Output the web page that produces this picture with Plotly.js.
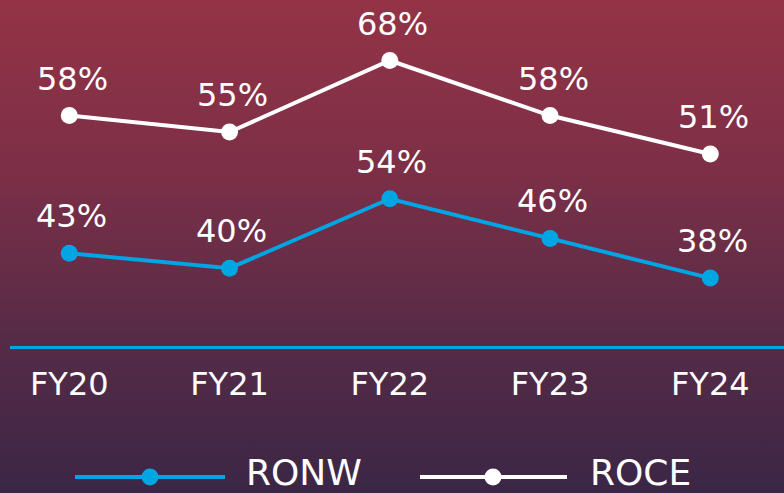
<!DOCTYPE html>
<html>
<head>
<meta charset="utf-8">
<script src="https://cdn.plot.ly/plotly-3.0.1.min.js"></script>
<style>
  html, body { margin:0; padding:0; }
  body { width:784px; height:493px; overflow:hidden;
    background: linear-gradient(to bottom, #943346 0%, #7c2f47 35%, #552b47 70%, #3b2646 100%); }
  #chart { width:784px; height:493px; }
</style>
</head>
<body>
<div id="chart"></div>
<script>
// ---- data ----
const categories = ["FY20", "FY21", "FY22", "FY23", "FY24"];
const roceValues = [58, 55, 68, 58, 51];
const ronwValues = [43, 40, 54, 46, 38];
const seriesNames = ["RONW", "ROCE"];

// ---- styling ----
const W = 784, H = 493;
const M = {l: 10, r: 0, t: 0, b: 147};
const plotW = W - M.l - M.r, plotH = H - M.t - M.b;
const BLUE = "#00a5e3", WHITE = "#ffffff";
const FONT = "DejaVu Sans";
const LABEL_SIZE = 32;

function px(x) { return (x - M.l) / plotW; }
function py(y) { return 1 - (y - M.t) / plotH; }

const ronw = {
  x: categories, y: ronwValues, name: seriesNames[0], yaxis: "y2",
  type: "scatter", mode: "lines+markers",
  line: {color: BLUE, width: 4}, marker: {color: BLUE, size: 17},
  cliponaxis: false, showlegend: false
};
const roce = {
  x: categories, y: roceValues, name: seriesNames[1], yaxis: "y",
  type: "scatter", mode: "lines+markers",
  line: {color: WHITE, width: 4}, marker: {color: WHITE, size: 17},
  cliponaxis: false, showlegend: false
};

const annotations = [];
categories.forEach((c, i) => {
  annotations.push({x: c, y: roceValues[i], xref: "x", yref: "y", text: roceValues[i] + "%",
    showarrow: false, yshift: 37, xshift: 3, font: {family: FONT, size: LABEL_SIZE, color: WHITE}});
  annotations.push({x: c, y: ronwValues[i], xref: "x", yref: "y2", text: ronwValues[i] + "%",
    showarrow: false, yshift: 37, xshift: 2, font: {family: FONT, size: LABEL_SIZE, color: WHITE}});
});

// legend drawn manually (wide symbol lines as in reference)
const legendY = 477;
const legendItems = [
  {name: seriesNames[0], color: BLUE, x0: 75, x1: 225, xm: 150, xt: 244},
  {name: seriesNames[1], color: WHITE, x0: 420, x1: 567, xm: 493, xt: 588}
];
const shapes = [];
legendItems.forEach(it => {
  shapes.push({type: "line", xref: "paper", yref: "paper",
    x0: px(it.x0), x1: px(it.x1), y0: py(legendY), y1: py(legendY),
    line: {color: it.color, width: 4}});
  shapes.push({type: "circle", xref: "paper", yref: "paper",
    xsizemode: "pixel", ysizemode: "pixel", xanchor: px(it.xm), yanchor: py(legendY),
    x0: -8.5, x1: 8.5, y0: -8.5, y1: 8.5,
    fillcolor: it.color, line: {width: 0}});
  annotations.push({xref: "paper", yref: "paper", x: px(it.xt), y: py(legendY - 5),
    xanchor: "left", yanchor: "middle", showarrow: false, text: it.name,
    font: {family: FONT, size: 36, color: WHITE}});
});

const layout = {
  width: W, height: H,
  margin: M,
  paper_bgcolor: "rgba(0,0,0,0)", plot_bgcolor: "rgba(0,0,0,0)",
  showlegend: false,
  font: {family: FONT, color: WHITE},
  xaxis: {
    type: "category", range: [-0.37, 4.46],
    showgrid: false, zeroline: false,
    showline: true, linecolor: BLUE, linewidth: 3,
    ticks: "outside", ticklen: 8, tickcolor: "rgba(0,0,0,0)",
    tickfont: {family: FONT, size: LABEL_SIZE, color: WHITE},
    fixedrange: true
  },
  yaxis: {range: [16.1, 79.0], visible: false, showgrid: false, zeroline: false, fixedrange: true},
  yaxis2: {range: [24.3, 94.1], overlaying: "y", visible: false, showgrid: false, zeroline: false, fixedrange: true},
  annotations: annotations,
  shapes: shapes
};

Plotly.newPlot("chart", [ronw, roce], layout, {displayModeBar: false, staticPlot: true});
</script>
</body>
</html>
